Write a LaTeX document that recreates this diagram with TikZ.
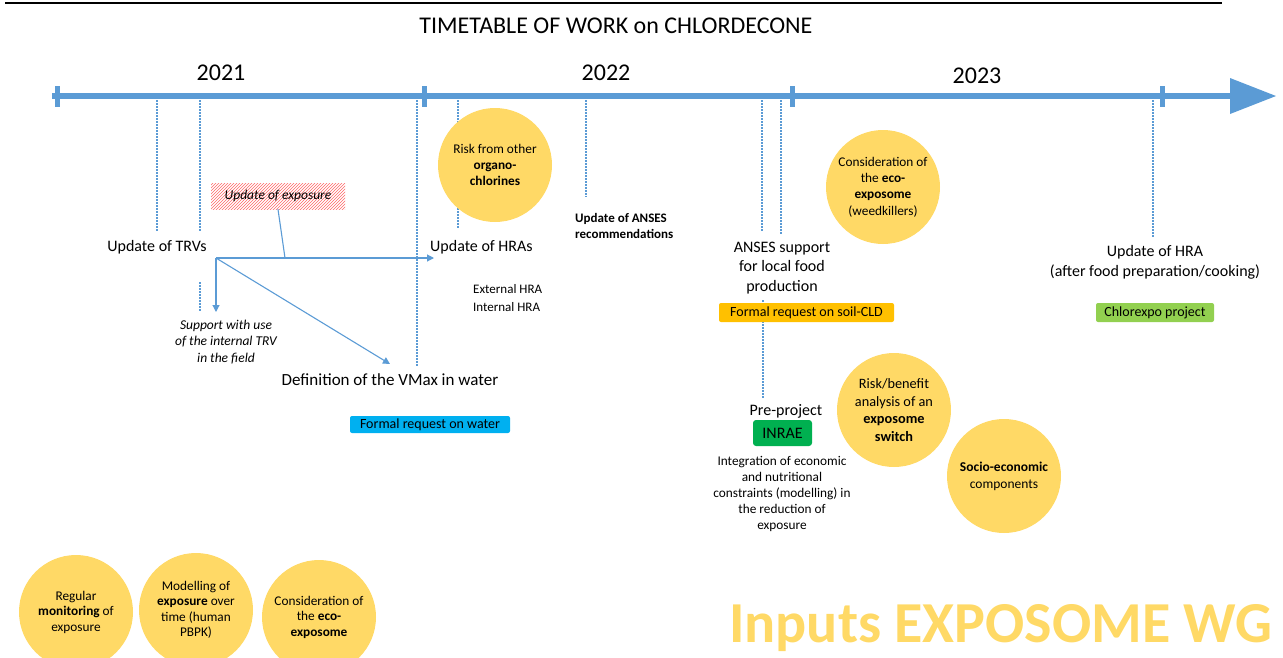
\documentclass[tikz,border=0pt]{standalone}
\usepackage{fontspec}
\setmainfont{Carlito}
\usepackage{tikz}
\usetikzlibrary{arrows.meta}
\usetikzlibrary{patterns}
\usepackage{xcolor}
\definecolor{tlblue}{HTML}{5B9BD5}
\definecolor{gold}{HTML}{FFD966}
\definecolor{reqcyan}{HTML}{00B0F0}
\definecolor{reqorange}{HTML}{FFC000}
\definecolor{projgreen}{HTML}{92D050}
\definecolor{inraegreen}{HTML}{00B050}
\tikzset{>={Triangle[length=7pt,width=7pt]}}

\begin{document}
\begin{tikzpicture}[x=1pt,y=-1pt]
                % bubble = yellow circle, req = coloured request box
                \tikzstyle{every node}=[inner sep=0pt, font=\fontsize{16}{19.5}\selectfont]
                \tikzstyle{bubble}=[circle, fill=gold, minimum size=114pt, align=center, font=\fontsize{13.3}{16.3}\selectfont]
                \tikzstyle{req}=[rounded corners=2pt, minimum height=18pt, font=\fontsize{14}{16}\selectfont]
                \tikzstyle{small}=[font=\fontsize{13.3}{16}\selectfont]
                \tikzstyle{guide}=[tlblue, line width=1.5pt, dash pattern=on 1.5pt off 1.5pt]
                \tikzstyle{link}=[tlblue, line width=1.1pt]
                \useasboundingbox (0,0) rectangle (1283,657);

                % header
                \draw[line width=2pt] (5,3) -- (1222,3);
                \node[font=\fontsize{24}{28}\selectfont] (title) at (616,26) {TIMETABLE OF WORK on CHLORDECONE};

                % timeline
                \draw[tlblue, line width=6pt] (52,96) -- (1234,96);
                \fill[tlblue] (1230,78) -- (1276,96) -- (1230,114) -- cycle;
                \foreach \x in {57,424,792,1162}
                        \fill[tlblue] (\x-2.5,86) rectangle (\x+2.5,107);
                \node[font=\fontsize{24}{28}\selectfont] (y2021) at (221,73) {2021};
                \node[font=\fontsize{24}{28}\selectfont] (y2022) at (606,73) {2022};
                \node[font=\fontsize{24}{28}\selectfont] (y2023) at (977,76) {2023};

                % dotted guides
                \foreach \x/\ya/\yb in {157/100/232, 200/100/232, 200/282/312, 417/100/366,
                        458/100/229, 586/100/197, 762/100/232, 781/100/234, 763/300/398, 1153/100/237}
                        \draw[guide] (\x,\ya) -- (\x,\yb);

                % 2021
                \node (trvs) at (157,247) {Update of TRVs};
                \node[pattern=north east lines, pattern color=red!60, minimum width=134pt, minimum height=26pt,
                        font=\itshape\fontsize{13.5}{16}\selectfont] (expo) at (278,196) {Update of exposure};
                \node[align=center, font=\itshape\fontsize{13.5}{16.5}\selectfont] (support) at (226,342)
                        {Support with use\\of the internal TRV\\in the field};
                \node[font=\fontsize{17}{20}\selectfont] (vmax) at (390,380) {Definition of the VMax in water};
                \node[req, fill=reqcyan, minimum width=160pt, minimum height=17pt] (water) at (430,424.5) {Formal request on water};

                % 2022
                \node[anchor=west] (hras) at (430,247) {Update of HRAs};
                \node[anchor=west, align=left, font=\fontsize{13}{18.5}\selectfont] (exthra) at (473,298) {External HRA\\Internal HRA};
                \node[bubble] (organo) at (495,165) {Risk from other\\\textbf{organo-}\\\textbf{chlorines}};
                \node[anchor=west, align=left, font=\bfseries\fontsize{13}{16}\selectfont] (anses) at (575,226)
                        {Update of ANSES\\recommendations};
                \node[align=center] (local) at (782,268) {ANSES support\\for local food\\production};
                \node[req, fill=reqorange, minimum width=175pt, minimum height=19pt] (soil) at (806.5,312.5) {Formal request on soil-CLD};
                \node (pre) at (786,411) {Pre-project};
                \node[fill=inraegreen, rounded corners=3pt, minimum width=59pt, minimum height=26pt] (inrae) at (782.5,433) {INRAE};
                \node[small, align=center] (integ) at (782,494)
                        {Integration of economic\\and nutritional\\constraints (modelling) in\\the reduction of\\exposure};

                % 2023
                \node[bubble] (weed) at (883,187) {Consideration of\\the \textbf{eco-}\\\textbf{exposome}\\(weedkillers)};
                \node[bubble, font=\fontsize{14.3}{17.5}\selectfont] (switch) at (894,410)
                        {Risk/benefit\\analysis of an\\\textbf{exposome}\\\textbf{switch}};
                \node[bubble, font=\fontsize{13.5}{17}\selectfont] (socio) at (1004,476) {\textbf{Socio-economic}\\components};
                \node[align=center] (cooking) at (1155,262.5) {Update of HRA\\(after food preparation/cooking)};
                \node[req, fill=projgreen, minimum width=118pt, minimum height=19pt] (chlorexpo) at (1155,312.5) {Chlorexpo project};

                % links from update of TRVs
                \coordinate (split) at (216,258);
                \coordinate (join) at (285,258);
                \coordinate (hrasin) at (434,258);
                \coordinate (supportin) at (216,312);
                \coordinate (vmaxin) at (390,364);
                \draw[link] (expo.south) -- (join);
                \draw[link, ->] (split) -- (hrasin);
                \draw[link, ->] (split) -- (supportin);
                \draw[link, ->] (split) -- (vmaxin);

                % inputs
                \node[bubble, font=\fontsize{13.3}{15.5}\selectfont] (monitor) at (76,612) {Regular\\\textbf{monitoring} of\\exposure};
                \node[bubble, font=\fontsize{13.3}{15.5}\selectfont] (pbpk) at (196,610) {Modelling of\\\textbf{exposure} over\\time (human\\PBPK)};
                \node[bubble, font=\fontsize{13.3}{15.5}\selectfont] (eco) at (319,617) {Consideration of\\the \textbf{eco-}\\\textbf{exposome}};
                \node[anchor=base west, text=gold, font=\bfseries\fontsize{58}{58}\selectfont] (inputs) at (729,642) {Inputs EXPOSOME WG};

        \end{tikzpicture}
\end{document}
